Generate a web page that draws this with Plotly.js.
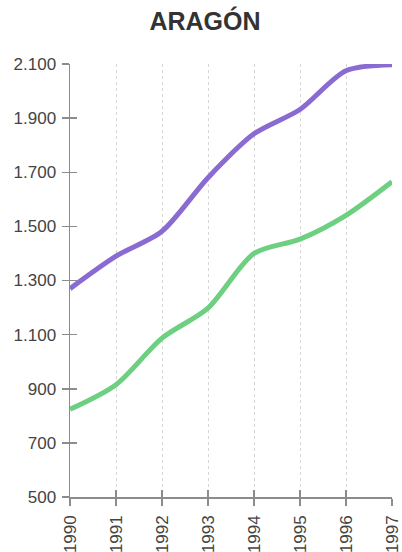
<!DOCTYPE html>
<html><head><meta charset="utf-8">
<script src="https://cdn.plot.ly/plotly-3.0.1.min.js"></script>
<style>html,body{margin:0;padding:0;background:#fff;}#c{width:402px;height:552px;}</style>
</head><body><div id="c"></div>
<script>
const years = [1990, 1991, 1992, 1993, 1994, 1995, 1996, 1997];
const seriesPurple = [1270, 1390, 1482, 1680, 1842, 1932, 2075, 2097];
const seriesGreen = [824, 915, 1087, 1198, 1400, 1453, 1541, 1665];
const yTicks = [500, 700, 900, 1100, 1300, 1500, 1700, 1900, 2100];
const titleText = "ARAGÓN";

const font = "Liberation Sans, Arial, sans-serif";
const traces = [
  {x: years, y: seriesPurple, type: 'scatter', mode: 'lines',
   line: {color: '#8a6bd1', width: 5, shape: 'spline', smoothing: 0.8}, hoverinfo: 'skip'},
  {x: years, y: seriesGreen, type: 'scatter', mode: 'lines',
   line: {color: '#6dcf80', width: 5, shape: 'spline', smoothing: 0.8}, hoverinfo: 'skip'},
  {x: years, y: seriesGreen, xaxis: 'x2', yaxis: 'y2', type: 'scatter', mode: 'lines',
   opacity: 0, hoverinfo: 'skip'}
];
const axCommon = {linecolor: '#8c8c8c', linewidth: 1.5, tickcolor: '#8c8c8c', tickwidth: 1.5,
  tickfont: {family: font, size: 17, color: '#444444'}, zeroline: false};
const layout = {
  width: 402, height: 552,
  margin: {l: 70, r: 10, t: 64, b: 55},
  paper_bgcolor: '#ffffff', plot_bgcolor: '#ffffff',
  showlegend: false,
  separators: ',.',
  title: {text: '<b>' + titleText + '</b>', font: {family: font, size: 25, color: '#333333'},
    x: 0.51, xref: 'container', xanchor: 'center', y: 0.962, yref: 'container', yanchor: 'middle'},
  xaxis: Object.assign({}, axCommon, {range: [1990, 1997], tickvals: years, ticktext: years.map(String),
    tickangle: -90, ticks: 'outside', ticklen: 7, showline: true, ticklabelstandoff: 3,
    showgrid: true, gridcolor: '#d6d6d6', griddash: 'dot', gridwidth: 1}),
  yaxis: Object.assign({}, axCommon, {range: [500, 2100], tickvals: yTicks, tickformat: ',d',
    ticks: 'outside', ticklen: 7, showline: true, showgrid: false, ticklabelstandoff: 2}),
  xaxis2: {overlaying: 'x', anchor: 'y', range: [1990, 1997], tickvals: years, ticks: 'inside', ticklen: 7,
    tickcolor: '#8c8c8c', tickwidth: 1.5, showticklabels: false, showgrid: false, showline: false, zeroline: false},
  yaxis2: {overlaying: 'y', anchor: 'x', range: [500, 2100], tickvals: yTicks, ticks: 'inside', ticklen: 7,
    tickcolor: '#8c8c8c', tickwidth: 1.5, showticklabels: false, showgrid: false, showline: false, zeroline: false}
};
Plotly.newPlot('c', traces, layout, {staticPlot: true, displayModeBar: false});
</script>
</body></html>
